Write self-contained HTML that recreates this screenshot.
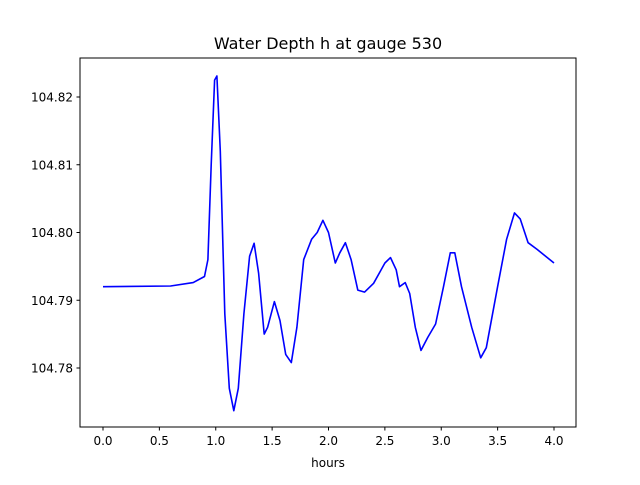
<!DOCTYPE html>
<html><head><meta charset="utf-8"><style>
body{margin:0;background:#fff;}
svg text{font-family:"DejaVu Sans","Liberation Sans",sans-serif;}
</style></head><body>
<svg id="chart" width="640" height="480" viewBox="0 0 640 480">
<rect x="0" y="0" width="640" height="480" fill="#fff"/>
<text x="328" y="49" font-size="16" text-anchor="middle">Water Depth h at gauge 530</text>
<g id="ticks"></g>
<polyline id="series" fill="none" stroke="#0000ff" stroke-width="1.6" stroke-linejoin="round"/>
<rect x="80" y="58" width="496" height="369" fill="none" stroke="#000" stroke-width="1"/>
<text x="328" y="467" font-size="12" text-anchor="middle">hours</text>
</svg>
<script>
const hours=[0,0.6,0.8,0.9,0.93,0.96,0.99,1.01,1.04,1.08,1.12,1.16,1.2,1.25,1.3,1.34,1.38,1.43,1.46,1.52,1.57,1.62,1.67,1.72,1.78,1.85,1.9,1.95,2.0,2.06,2.1,2.15,2.2,2.26,2.32,2.4,2.5,2.55,2.6,2.63,2.68,2.72,2.77,2.82,2.88,2.95,3.02,3.08,3.12,3.18,3.27,3.35,3.4,3.5,3.58,3.65,3.7,3.77,3.85,4.0];
const depth=[104.792,104.7921,104.7926,104.7935,104.796,104.81,104.8225,104.8231,104.812,104.788,104.777,104.7737,104.777,104.788,104.7965,104.7984,104.794,104.785,104.786,104.7898,104.787,104.782,104.7808,104.786,104.796,104.799,104.8,104.8018,104.8,104.7955,104.797,104.7985,104.796,104.7915,104.7912,104.7925,104.7955,104.7963,104.7945,104.792,104.7926,104.791,104.786,104.7826,104.7845,104.7865,104.792,104.797,104.797,104.792,104.786,104.7815,104.783,104.792,104.799,104.8029,104.802,104.7985,104.7975,104.7955];
const xTicks=[0,0.5,1,1.5,2,2.5,3,3.5,4];
const xTickLabels=["0.0","0.5","1.0","1.5","2.0","2.5","3.0","3.5","4.0"];
const yTicks=[104.78,104.79,104.80,104.81,104.82];
const yTickLabels=["104.78","104.79","104.80","104.81","104.82"];
const X=t=>103+t*112.75;
const Y=v=>97+(104.82-v)*6775;
const ns="http://www.w3.org/2000/svg";
const g=document.getElementById('ticks');
function mk(tag,attrs){const e=document.createElementNS(ns,tag);for(const k in attrs)e.setAttribute(k,attrs[k]);g.appendChild(e);return e;}
xTicks.forEach((t,i)=>{
  const l=mk('line',{x1:X(t),x2:X(t),y1:427,y2:430.5,stroke:'#000'});
  
  
  const tx=mk('text',{x:X(t),y:445,'font-size':12,'text-anchor':'middle'});
  tx.textContent=xTickLabels[i];
  
  
});
yTicks.forEach((v,i)=>{
  const l=mk('line',{x1:76.5,x2:80,y1:Y(v),y2:Y(v),stroke:'#000'});
  
  
  const tx=mk('text',{x:73,y:Y(v)+4.5,'font-size':12,'text-anchor':'end'});
  tx.textContent=yTickLabels[i];
  
  
});
document.getElementById('series').setAttribute('points',hours.map((t,i)=>X(t).toFixed(1)+','+Y(depth[i]).toFixed(1)).join(' '));
</script>
</body></html>
